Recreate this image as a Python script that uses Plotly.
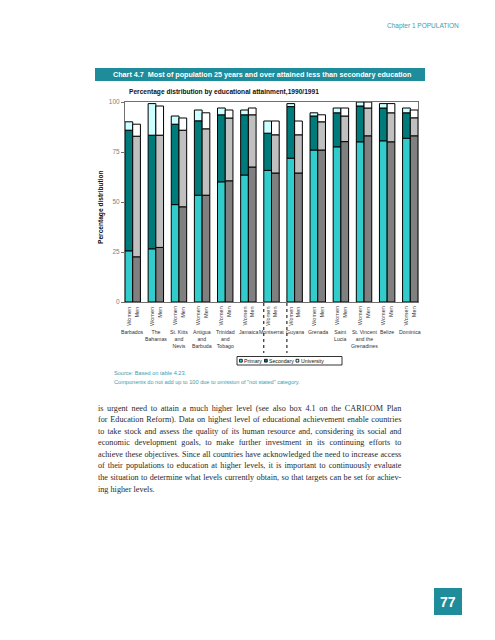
import plotly.graph_objects as go
import numpy as np

# ---------------- data ----------------
countries = ["Barbados", "The Bahamas", "St. Kitts and Nevis", "Antigua and Barbuda",
             "Trinidad and Tobago", "Jamaica", "Montserrat", "Guyana", "Grenada",
             "Saint Lucia", "St. Vincent and the Grenadines", "Belize", "Dominica"]
country_labels = ["Barbados", "The<br>Bahamas", "St. Kitts<br>and<br>Nevis", "Antigua<br>and<br>Barbuda",
                  "Trinidad<br>and<br>Tobago", "Jamaica", "Montserrat", "Guyana", "Grenada",
                  "Saint<br>Lucia", "St. Vincent<br>and the<br>Grenadines", "Belize", "Dominica"]
sex_labels = ["Women", "Men"]
levels = ["Primary", "Secondary", "University"]

women_primary = [25.6, 26.6, 48.7, 53.4, 60.1, 63.5, 65.8, 71.9, 76.0, 77.6, 80.1, 80.6, 81.9]
women_secondary = [60.3, 56.8, 40.2, 37.2, 33.5, 30.1, 18.6, 25.8, 17.0, 17.0, 17.9, 16.4, 12.7]
women_university = [4.2, 15.8, 4.1, 5.4, 3.4, 2.4, 6.1, 1.5, 1.6, 2.4, 2.0, 2.2, 2.4]
men_primary = [22.6, 27.3, 47.6, 53.4, 60.6, 67.5, 64.5, 64.5, 76.0, 80.2, 83.1, 80.1, 83.1]
men_secondary = [60.3, 56.1, 38.3, 33.2, 31.4, 26.1, 19.1, 19.1, 14.1, 12.8, 13.9, 14.5, 9.0]
men_university = [6.0, 14.6, 6.1, 8.0, 4.0, 3.4, 6.9, 6.9, 3.5, 4.0, 3.0, 4.6, 3.9]

y_ticks = [0, 25, 50, 75, 100]

body_lines = [
    "is urgent need to attain a much higher level (see also box 4.1 on the CARICOM Plan",
    "for Education Reform). Data on highest level of educational achievement enable countries",
    "to take stock and assess the quality of its human resource and, considering its social and",
    "economic development goals, to make further investment in its continuing efforts to",
    "achieve these objectives. Since all countries have acknowledged the need to increase access",
    "of their populations to education at higher levels, it is important to continuously evaluate",
    "the situation to determine what levels currently obtain, so that targets can be set for achiev-",
    "ing higher levels.",
]

# ---------------- styles ----------------
TEAL = "#1E8C9A"
SRC = "#3A9DAE"
women_colors = ["#33CCCC", "#007B7B", "#CCFFFF"]
men_colors = ["#808080", "#C0C0C0", "#FFFFFF"]
SANS = "Liberation Sans, Arial, sans-serif"
SERIF = "Liberation Serif, Times New Roman, serif"

W, H = 495, 640
L, R, T, B = 117, 410, 94, 294


def px(x):
    return (x - L) / (R - L)


def py(y):
    return (B - y) / (B - T)


n = len(countries)
bw = 1 / 3  # bar width in category units

fig = go.Figure()
groups = [("Women", [women_primary, women_secondary, women_university], women_colors, -bw),
          ("Men", [men_primary, men_secondary, men_university], men_colors, 0.0)]
for sex, comps, cols, off in groups:
    base = np.zeros(n)
    for lev, vals, col in zip(levels, comps, cols):
        vals = np.array(vals)
        fig.add_trace(go.Bar(
            x=countries, y=vals, base=base.copy(), width=bw, offset=off,
            name=f"{sex} {lev}", marker=dict(color=col, line=dict(color="black", width=1)),
            showlegend=False))
        base = base + vals

ann = []
shapes = []


def text(x, y, s, size, color="#222", xanchor="left", yanchor="middle", family=SANS, angle=0, pad=1):
    ann.append(dict(x=px(x), y=py(y), xref="paper", yref="paper", text=s, showarrow=False,
                    xanchor=xanchor, yanchor=yanchor, textangle=angle, borderpad=pad,
                    font=dict(size=size, color=color, family=family)))


def rect(x0, y0, x1, y1, fill, line_color=None, lw=0):
    shapes.append(dict(type="rect", xref="paper", yref="paper", x0=px(x0), x1=px(x1),
                       y0=py(y1), y1=py(y0), fillcolor=fill,
                       line=dict(color=line_color or fill, width=lw), layer="above"))


# header
text(453, 18, "Chapter 1 POPULATION", 6.5, "#3A9DAE", xanchor="right")
# title bar
rect(87, 60, 417, 73, TEAL)
text(103, 66.5, "<b>Chart 4.7  Most of population 25 years and over attained less than secondary education</b>",
     7.2, "white")
# subtitle
text(119, 84.5, "<b>Percentage distribution by educational attainment,1990/1991</b>", 6.6, "#111")
# y-axis title
text(93, 199, "<b>Percentage distribution</b>", 6.6, "#111", xanchor="center", angle=-90)

# Women / Men labels under bars
for i in range(n):
    for k, sx in enumerate(sex_labels):
        xc = i - bw / 2 if k == 0 else i + bw / 2
        ann.append(dict(x=xc, y=py(296.5), xref="x", yref="paper", text=sx, showarrow=False,
                        textangle=-90, xanchor="center", yanchor="top",
                        font=dict(size=5.6, color="#333", family=SANS)))
    ann.append(dict(x=i, y=py(319), xref="x", yref="paper", text=country_labels[i], showarrow=False,
                    xanchor="center", yanchor="top", align="center",
                    font=dict(size=5.2, color="#333", family=SANS)))

# dotted separators around Montserrat
for idx in (countries.index("Montserrat"), countries.index("Guyana")):
    shapes.append(dict(type="line", xref="x", yref="paper", x0=idx - bw, x1=idx - bw,
                       y0=py(295), y1=py(345), line=dict(color="black", width=1, dash="dot")))

# legend box
rect(229, 348.5, 334, 357, "white", "black", 0.8)
leg_x = [231.5, 256.5, 288]
leg_tx = [235.2, 260.2, 291.7]
for lx, tx, lev, col in zip(leg_x, leg_tx, levels, women_colors):
    rect(lx, 351.3, lx + 2.8, 354.1, col, "black", 0.8)
    text(tx, 352.8, lev, 5.2, "#111", pad=0)

# source notes
text(104, 364.5, "Source: Based on table 4.23.", 5.6, SRC)
text(104, 374, "Components do not add up to 100 due to omission of \"not stated\" category.", 5.6, SRC)

# body paragraph (justified via word-spacing from Times metrics)
tw = {' ': .25, '.': .25, ',': .25, '(': .333, ')': .333, '-': .333, '"': .408, "'": .333}
for c, w in zip("abcdefghijklmnopqrstuvwxyz",
                [.444, .5, .444, .5, .444, .333, .5, .5, .278, .278, .5, .278, .778, .5, .5, .5, .5, .333,
                 .389, .278, .5, .5, .722, .5, .5, .444]):
    tw[c] = w
for c, w in zip("ABCDEFGHIJKLMNOPQRSTUVWXYZ",
                [.722, .667, .667, .722, .611, .556, .722, .722, .333, .389, .722, .611, .889, .722, .722,
                 .556, .722, .667, .556, .611, .722, .722, .944, .722, .722, .611]):
    tw[c] = w
for c in "0123456789":
    tw[c] = .5


def em_width(s):
    return sum(tw.get(c, .5) for c in s)


BX0, BX1 = 88, 392
target = BX1 - BX0
fs = min(8.8, 0.99 * target / max(em_width(s) for s in body_lines[:-1]))
for i, line in enumerate(body_lines):
    y = 400 + 11.6 * i
    if i < len(body_lines) - 1:
        ws = (target - em_width(line) * fs) / max(1, line.count(" "))
        s = f"<span style='word-spacing:{ws:.2f}px'>{line}</span>"
    else:
        s = line
    text(BX0, y, s, fs, "#2a2a2a", family=SERIF)

# page number
rect(426, 580, 454, 607, TEAL)
text(440, 593.5, "<b>77</b>", 14, "white", xanchor="center", family=SANS)

fig.update_layout(
    width=W, height=H, margin=dict(l=L, r=W - R, t=T, b=H - B),
    paper_bgcolor="white", plot_bgcolor="white", barmode="overlay",
    annotations=ann, shapes=shapes, showlegend=False,
    xaxis=dict(type="category", range=[-bw, n - 1 + bw], showticklabels=False, ticks="",
               showline=True, mirror=True, linecolor="#707070", linewidth=1, showgrid=False, zeroline=False,
               fixedrange=True),
    yaxis=dict(range=[0, 100], tickvals=y_ticks, ticks="outside", ticklen=3, tickcolor="#707070",
               tickfont=dict(size=6.5, color="#808080", family=SANS), showline=True, mirror=True,
               linecolor="#707070", linewidth=1, showgrid=False, zeroline=False, fixedrange=True),
)

fig.write_html("out.html")
